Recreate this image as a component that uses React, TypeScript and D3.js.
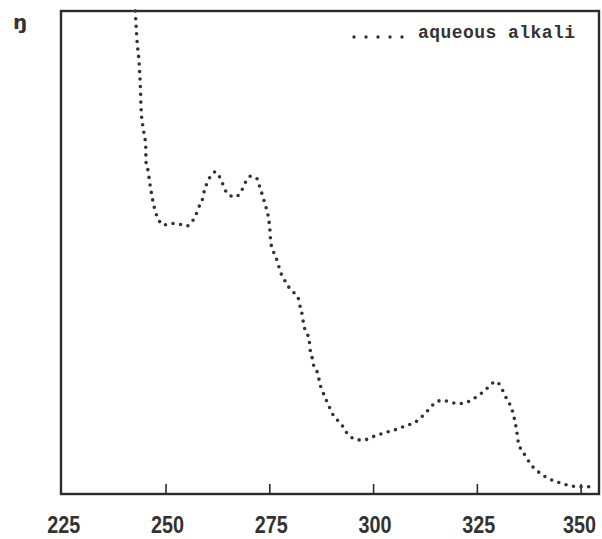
import React, { useEffect, useRef } from 'react';
import * as d3 from 'd3';

// wavelength (nm)
const wavelength = [
	242.6, 243.0, 243.5, 243.85, 244.0, 244.5, 245.1, 245.2, 245.7, 246.0, 246.4, 247.1, 247.5, 248.2, 249.3,
	251.3, 253.4, 255.0, 256.3, 257.1, 257.9, 258.8, 259.2, 259.9, 261.0, 261.9, 262.8, 263.6, 264.2, 265.4,
	266.6, 268.2, 269.1, 270.4, 272.0, 272.6, 273.1, 273.6, 274.1, 274.6, 274.9, 275.05, 275.2, 275.6, 276.4,
	277.0, 277.6, 278.4, 279.6, 280.8, 282.0, 282.3, 282.8, 283.2, 283.9, 284.5, 284.7, 285.2, 285.6, 286.6,
	287.0, 287.7, 288.5, 289.3, 290.1, 291.3, 292.5, 293.5, 294.9, 296.2, 297.7, 299.6, 302.0, 303.6, 305.2,
	306.8, 308.4, 310.1, 311.6, 313.2, 314.6, 316.6, 318.6, 320.3, 322.1, 324.2, 326.2, 328.0, 329.4, 330.6,
	331.7, 332.8, 333.5, 334.1, 334.5, 334.8, 335.4, 336.6, 337.7, 339.4, 341.5, 343.5, 345.3, 347.3, 349.6,
	351.3, 353.3,
];
// absorbance, arbitrary units (0 = baseline, 100 = top of frame)
const absorbance = [
	100, 94.0, 89.4, 83.6, 79.5, 75.7, 72.2, 68.5, 66.8, 64.9, 62.7, 59.6, 58.3, 56.8, 55.7,
	56.0, 55.8, 55.5, 56.4, 57.6, 59.4, 61.1, 62.7, 64.4, 66.1, 66.7, 65.8, 64.3, 63.0, 61.8,
	61.5, 62.8, 64.5, 65.8, 65.2, 63.5, 62.2, 60.8, 59.3, 57.6, 55.8, 54.4, 52.3, 50.8, 49.2,
	47.6, 45.9, 44.5, 42.8, 41.7, 40.2, 38.8, 37.1, 34.9, 33.4, 31.7, 30.0, 28.2, 26.5, 24.8,
	23.0, 21.3, 19.6, 18.1, 16.6, 15.3, 14.1, 12.7, 11.6, 11.2, 11.2, 11.8, 12.5, 12.9, 13.3,
	13.8, 14.3, 14.9, 16.0, 17.4, 18.7, 19.4, 19.0, 18.7, 18.9, 19.8, 21.0, 22.4, 23.3, 22.3,
	20.3, 18.6, 17.0, 14.8, 12.9, 11.0, 9.4, 7.9, 6.3, 4.8, 3.5, 2.7, 2.2, 1.7, 1.5,
	1.5, 1.5,
];
const xTicks = [250, 275, 300, 325, 350];
const xLabels = [225, 250, 275, 300, 325, 350];
const seriesName = 'aqueous alkali';

const size = [602, 539];
const margin = { top: 11, right: 3, bottom: 45, left: 61 };
const ink = '#2b2b2b';

export default function App() {
	const ref = useRef<SVGSVGElement | null>(null);

	useEffect(() => {
		const [width, height] = size;
		const svg = d3.select(ref.current);
		svg.selectAll('*').remove();

		const x = d3
			.scaleLinear()
			.domain([224.7, 354.3])
			.range([margin.left, width - margin.right]);
		const y = d3
			.scaleLinear()
			.domain([0, 100])
			.range([height - margin.bottom, margin.top]);

		const data = wavelength.map((w, i) => ({ w, a: absorbance[i] }));

		// frame
		svg
			.append('rect')
			.attr('x', x.range()[0])
			.attr('y', y.range()[1])
			.attr('width', x.range()[1] - x.range()[0])
			.attr('height', y.range()[0] - y.range()[1])
			.attr('fill', 'none')
			.attr('stroke', ink)
			.attr('stroke-width', 2.4);

		// ticks point inward
		svg
			.selectAll('.tick')
			.data(xTicks)
			.enter()
			.append('line')
			.attr('class', 'tick')
			.attr('x1', d => x(d))
			.attr('x2', d => x(d))
			.attr('y1', y(0))
			.attr('y2', y(0) - 10)
			.attr('stroke', ink)
			.attr('stroke-width', 1.6);

		// labels: condensed bold digits, last one kept inside the page
		const labelW = 33;
		svg
			.selectAll('.xlabel')
			.data(xLabels)
			.enter()
			.append('text')
			.attr('class', 'xlabel')
			.attr('x', d => Math.min(x(d) + 1.5, width - 6 - labelW / 2))
			.attr('y', height - 6)
			.attr('text-anchor', 'middle')
			.attr('textLength', labelW)
			.attr('lengthAdjust', 'spacingAndGlyphs')
			.style('font', 'bold 24px "Liberation Sans", Arial, sans-serif')
			.attr('fill', '#333')
			.text(d => d);

		// y axis mark (unreadable glyph in the scan)
		svg
			.append('text')
			.attr('x', 13)
			.attr('y', 29)
			.style('font', 'bold 20px "DejaVu Sans", sans-serif')
			.attr('fill', '#333')
			.text('ŋ');

		// dotted spectrum
		const line = d3
			.line<{ w: number; a: number }>()
			.x(d => x(d.w))
			.y(d => y(d.a))
			.curve(d3.curveMonotoneX);

		svg
			.append('path')
			.datum(data)
			.attr('d', line)
			.attr('fill', 'none')
			.attr('stroke', '#333')
			.attr('stroke-width', 3.6)
			.attr('stroke-linecap', 'round')
			.attr('stroke-dasharray', '0 7.6');

		// legend
		const lg = svg.append('g').attr('transform', 'translate(354,37)');
		lg.append('line')
			.attr('x1', 0)
			.attr('x2', 49)
			.attr('y1', 0)
			.attr('y2', 0)
			.attr('stroke', '#333')
			.attr('stroke-width', 3.4)
			.attr('stroke-linecap', 'round')
			.attr('stroke-dasharray', '0 12');
		lg.append('text')
			.attr('x', 64)
			.attr('y', 1)
			.attr('textLength', 157)
			.attr('lengthAdjust', 'spacing')
			.style('font', 'bold 18px "Liberation Mono", "DejaVu Sans Mono", monospace')
			.attr('fill', '#333')
			.text(seriesName);
	}, []);

	return (
		<div>
			<svg
				ref={ref}
				width={size[0]}
				height={size[1]}
				style={{ position: 'absolute', left: 0, top: 0, background: '#fff' }}
			/>
		</div>
	);
}
